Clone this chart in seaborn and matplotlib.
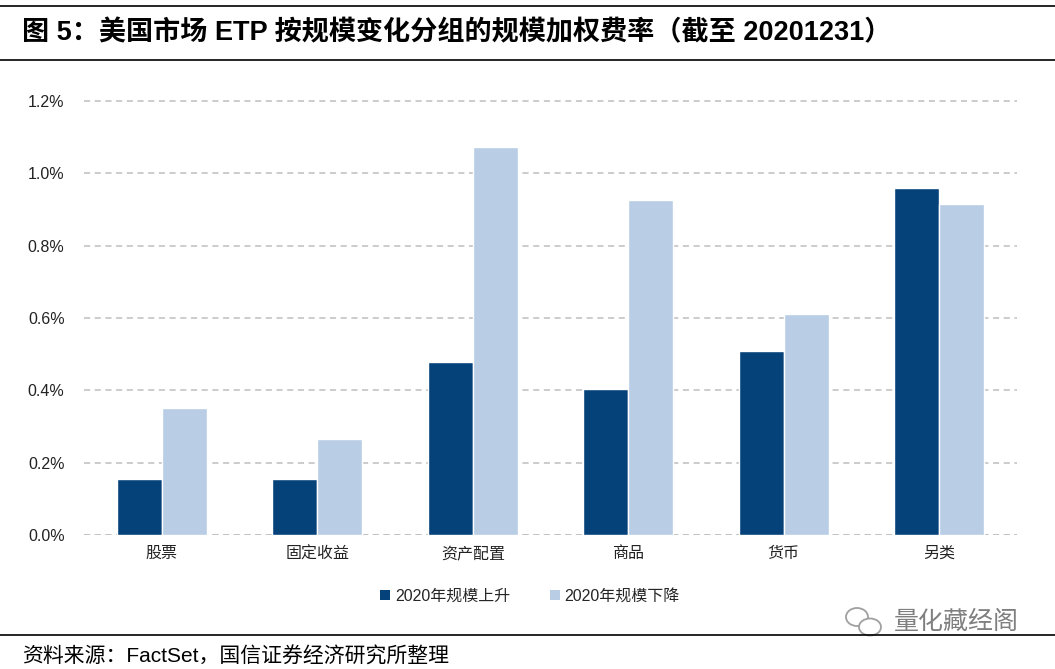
import matplotlib
matplotlib.use("Agg")
import matplotlib.pyplot as plt
import seaborn as sns
import pandas as pd
from matplotlib.ticker import FuncFormatter
from matplotlib.lines import Line2D
from matplotlib.patches import Patch, Ellipse

categories = ["股票", "固定收益", "资产配置", "商品", "货币", "另类"]
series_names = ["2020年规模上升", "2020年规模下降"]
rise_values = [0.155, 0.155, 0.478, 0.404, 0.509, 0.959]
fall_values = [0.351, 0.265, 1.073, 0.926, 0.611, 0.915]
colors = ["#06427A", "#B9CDE5"]

sns.set_theme(style="white")
plt.rcParams["font.family"] = ["Liberation Sans", "Noto Sans CJK SC", "DejaVu Sans"]

df = pd.DataFrame({
    "category": categories * 2,
    "series": [series_names[0]] * len(categories) + [series_names[1]] * len(categories),
    "value": rise_values + fall_values,
})

fig = plt.figure(figsize=(10.55, 6.69), dpi=100)
ax = fig.add_axes([84 / 1055, 1 - 535 / 669, (1017 - 84) / 1055, (535 - 83) / 669])

sns.barplot(data=df, x="category", y="value", hue="series", palette=colors,
            width=0.58, saturation=1, ax=ax, legend=False, zorder=3)

ax.set_ylim(0, 1.2 * 452 / 434)
ax.set_yticks([0, 0.2, 0.4, 0.6, 0.8, 1.0, 1.2])
ax.yaxis.set_major_formatter(FuncFormatter(lambda v, p: f"{v:.1f}%"))
ax.set_xlim(-0.5, 5.5)
ax.grid(axis="y", color="#BFBFBF", linestyle=(0, (4, 3)), linewidth=1.1, zorder=0)
ax.set_axisbelow(True)
for s in ax.spines.values():
    s.set_visible(False)
ax.set_xlabel("")
ax.set_ylabel("")
ax.tick_params(axis="both", length=0, labelsize=11.5, colors="#222222")
ax.tick_params(axis="y", pad=14)
ax.tick_params(axis="x", pad=8)
ax.axhline(0, color="#BFBFBF", linestyle=(0, (4, 3)), linewidth=1.1, zorder=1)

handles = [Patch(facecolor=c, edgecolor="none") for c in colors]
fig.legend(handles, series_names, loc="center", bbox_to_anchor=(530 / 1055, 1 - 596 / 669),
           ncol=2, frameon=False, fontsize=11.5, handlelength=0.6, handleheight=0.6,
           handletextpad=0.3, columnspacing=2.5)

# title & decorations
fig.add_artist(Line2D([0, 1], [1 - 6 / 669, 1 - 6 / 669], color="black", linewidth=1.2))
fig.add_artist(Line2D([0, 1], [1 - 60 / 669, 1 - 60 / 669], color="black", linewidth=1.2))
fig.add_artist(Line2D([0, 1], [1 - 635 / 669, 1 - 635 / 669], color="black", linewidth=1.2))
fig.text(22 / 1055, 1 - 33 / 669, "图 5：美国市场 ETP 按规模变化分组的规模加权费率（截至 20201231）",
         fontsize=19.5, fontweight="bold", va="center", ha="left", color="black")
fig.text(22 / 1055, 1 - 657 / 669, "资料来源：FactSet，国信证券经济研究所整理",
         fontsize=15, va="center", ha="left", color="black")
fig.text(1019 / 1055, 1 - 622 / 669, "量化藏经阁", fontsize=18, va="center", ha="right",
         color="#7F7F7F")
# simple WeChat-like bubble icon
fig.add_artist(Ellipse((857 / 1055, 1 - 617 / 669), 22 / 1055, 18 / 669, fill=False,
                       edgecolor="#A0A0A0", linewidth=1.3, transform=fig.transFigure))
fig.add_artist(Ellipse((870 / 1055, 1 - 627 / 669), 22 / 1055, 17 / 669, facecolor="white",
                       edgecolor="#A0A0A0", linewidth=1.3, transform=fig.transFigure))

fig.savefig("out.png", dpi=100)
